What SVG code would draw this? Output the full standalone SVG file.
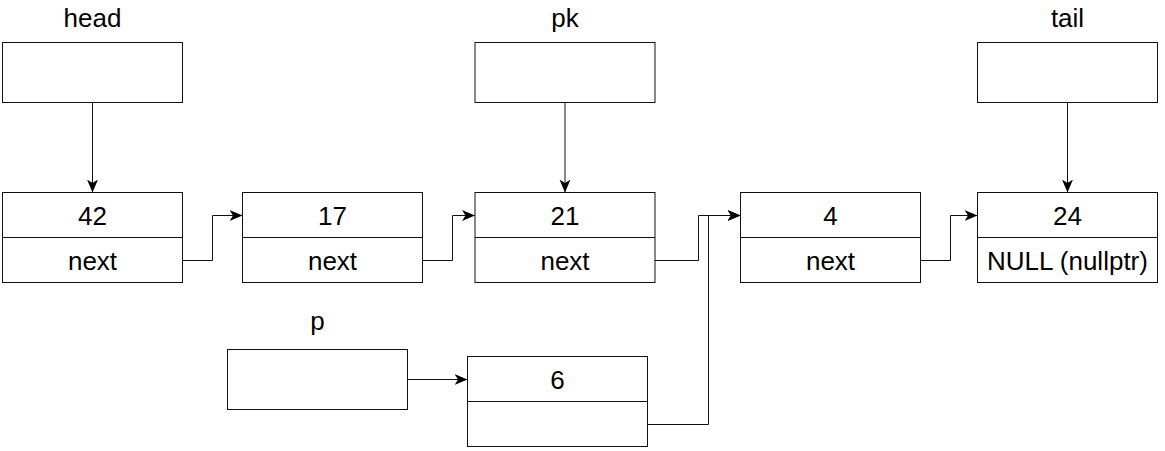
<svg xmlns="http://www.w3.org/2000/svg" width="1165" height="451" viewBox="0 0 1165 451">
<style>
.box{fill:#fff;stroke:#111;stroke-width:1}
.div{stroke:#111;stroke-width:1}
.t{font-family:"Liberation Sans",Arial,sans-serif;font-size:26px;fill:#000;text-anchor:middle}
.e{fill:none;stroke:#111;stroke-width:1}
</style>
<defs>
<marker id="arr" markerUnits="userSpaceOnUse" markerWidth="14" markerHeight="12" refX="13" refY="6" orient="auto">
<path d="M0,0.5 L13,6 L0,11.5 L3.5,6 Z" fill="#000"/>
</marker>
</defs>
<rect width="1165" height="451" fill="#fff"/>
<g id="head">
<text class="t" x="92.5" y="27">head</text>
<rect class="box" x="2.5" y="42.5" width="180" height="60"/>
</g>
<g id="pk">
<text class="t" x="565" y="27">pk</text>
<rect class="box" x="475" y="42.5" width="180" height="60"/>
</g>
<g id="tail">
<text class="t" x="1067.5" y="27">tail</text>
<rect class="box" x="977.5" y="42.5" width="180" height="60"/>
</g>
<g id="n42">
<rect class="box" x="2.5" y="192.5" width="180" height="90"/>
<line class="div" x1="2.5" y1="237.5" x2="182.5" y2="237.5"/>
<text class="t" x="92.5" y="225">42</text>
<text class="t" x="92.5" y="270">next</text>
</g>
<g id="n17">
<rect class="box" x="242.5" y="192.5" width="180" height="90"/>
<line class="div" x1="242.5" y1="237.5" x2="422.5" y2="237.5"/>
<text class="t" x="332.5" y="225">17</text>
<text class="t" x="332.5" y="270">next</text>
</g>
<g id="n21">
<rect class="box" x="475" y="192.5" width="180" height="90"/>
<line class="div" x1="475" y1="237.5" x2="655" y2="237.5"/>
<text class="t" x="565" y="225">21</text>
<text class="t" x="565" y="270">next</text>
</g>
<g id="n4">
<rect class="box" x="740.5" y="192.5" width="180" height="90"/>
<line class="div" x1="740.5" y1="237.5" x2="920.5" y2="237.5"/>
<text class="t" x="830.5" y="225">4</text>
<text class="t" x="830.5" y="270">next</text>
</g>
<g id="n24">
<rect class="box" x="977.5" y="192.5" width="180" height="90"/>
<line class="div" x1="977.5" y1="237.5" x2="1157.5" y2="237.5"/>
<text class="t" x="1067.5" y="225">24</text>
<text class="t" x="1067.5" y="270">NULL (nullptr)</text>
</g>
<g id="p">
<text class="t" x="317.5" y="330">p</text>
<rect class="box" x="227.5" y="349.5" width="180" height="60"/>
</g>
<g id="n6">
<rect class="box" x="467.5" y="356.5" width="180" height="90"/>
<line class="div" x1="467.5" y1="401.5" x2="647.5" y2="401.5"/>
<text class="t" x="557.5" y="389">6</text>
</g>
<g id="connectors">
<path class="e" d="M92.5,102.5 V192.5" marker-end="url(#arr)"/>
<path class="e" d="M565,102.5 V192.5" marker-end="url(#arr)"/>
<path class="e" d="M1067.5,102.5 V192.5" marker-end="url(#arr)"/>
<path class="e" d="M182.5,260.5 H212.5 V215.5 H242.5" marker-end="url(#arr)"/>
<path class="e" d="M422.5,260.5 H452.5 V215.5 H475" marker-end="url(#arr)"/>
<path class="e" d="M655,260.5 H698.5 V215.5 H740.5" marker-end="url(#arr)"/>
<path class="e" d="M647.5,424.5 H708.5 V215.5 H740.5" marker-end="url(#arr)"/>
<path class="e" d="M920.5,260.5 H950.5 V215.5 H977.5" marker-end="url(#arr)"/>
<path class="e" d="M407.5,379.5 H467.5" marker-end="url(#arr)"/>
</g>
</svg>
